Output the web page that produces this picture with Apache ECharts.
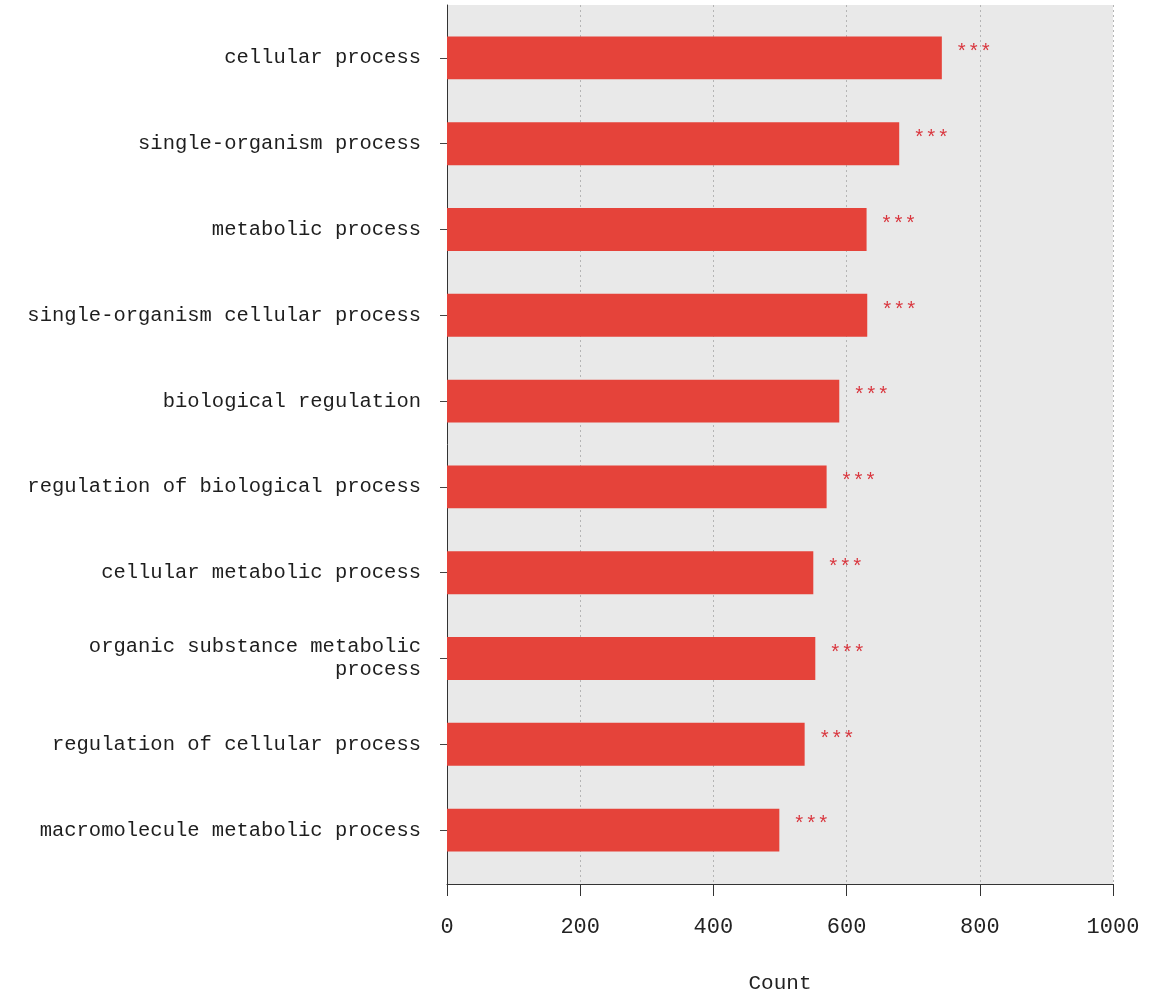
<!DOCTYPE html>
<html>
<head>
<meta charset="utf-8">
<script src="https://cdn.jsdelivr.net/npm/echarts@6/dist/echarts.min.js"></script>
<style>
html,body{margin:0;padding:0;background:#fff;}
#chart{width:1163px;height:994px;}
</style>
</head>
<body>
<div id="chart"></div>
<script>
const categories = [
  "cellular process",
  "single-organism process",
  "metabolic process",
  "single-organism cellular process",
  "biological regulation",
  "regulation of biological process",
  "cellular metabolic process",
  "organic substance metabolic process",
  "regulation of cellular process",
  "macromolecule metabolic process"
];
const counts = [743, 679, 630, 631, 589, 570, 550, 553, 537, 499];
const significance = ["***", "***", "***", "***", "***", "***", "***", "***", "***", "***"];
const xTicks = [0, 200, 400, 600, 800, 1000];

const FONT = "Liberation Mono";
const MAX_CHARS = 32;

function wrapLabel(s) {
  if (s.length <= MAX_CHARS) return s;
  const words = s.split(' ');
  const lines = [];
  let cur = '';
  words.forEach(w => {
    const next = cur ? cur + ' ' + w : w;
    if (next.length > MAX_CHARS && cur) { lines.push(cur); cur = w; }
    else cur = next;
  });
  if (cur) lines.push(cur);
  return lines.join('\n');
}

const chart = echarts.init(document.getElementById('chart'), null, {renderer: 'canvas'});

const option = {
  animation: false,
  backgroundColor: '#ffffff',
  grid: [
    {left: 447, right: 50, top: 5, bottom: 110, show: true, backgroundColor: '#e9e9e9', borderWidth: 0, outerBoundsMode: 'none', containLabel: false},
    {left: 447, right: 50, top: 15, bottom: 121, outerBoundsMode: 'none', containLabel: false}
  ],
  xAxis: [
    {
      gridIndex: 0, type: 'value', min: xTicks[0], max: xTicks[xTicks.length - 1], interval: 200,
      name: 'Count', nameLocation: 'middle', nameGap: 89,
      nameTextStyle: {fontFamily: FONT, fontSize: 21, color: '#222'},
      axisLine: {show: true, lineStyle: {color: '#333', width: 1}},
      axisTick: {show: true, length: 12, lineStyle: {color: '#333'}},
      axisLabel: {fontFamily: FONT, fontSize: 22, color: '#222', margin: 32, formatter: v => String(v)},
      splitLine: {show: true, lineStyle: {color: '#b5b5b5', type: [2, 3], width: 1}}
    },
    {
      gridIndex: 1, type: 'value', min: xTicks[0], max: xTicks[xTicks.length - 1],
      show: false
    }
  ],
  yAxis: [
    {
      gridIndex: 0, type: 'value', min: 0, max: 1,
      axisLine: {show: true, onZero: false, lineStyle: {color: '#333', width: 1}},
      axisTick: {show: false}, axisLabel: {show: false}, splitLine: {show: false}
    },
    {
      gridIndex: 1, type: 'category', data: categories, inverse: true,
      axisLine: {show: false},
      axisTick: {show: true, length: 7, alignWithLabel: true, lineStyle: {color: '#444'}},
      axisLabel: {
        fontFamily: FONT, fontSize: 20.5, color: '#1e1e1e', margin: 26,
        lineHeight: 23, align: 'right', formatter: wrapLabel
      },
      splitLine: {show: false}
    }
  ],
  series: [
    {
      type: 'bar', xAxisIndex: 1, yAxisIndex: 1,
      data: counts, barWidth: '50%',
      itemStyle: {color: '#e5433a'},
      label: {
        show: true, position: 'right', distance: 14,
        formatter: p => significance[p.dataIndex],
        fontFamily: FONT, fontSize: 20, color: '#d9363e', offset: [0, -5]
      }
    }
  ]
};
chart.setOption(option);
</script>
</body>
</html>
